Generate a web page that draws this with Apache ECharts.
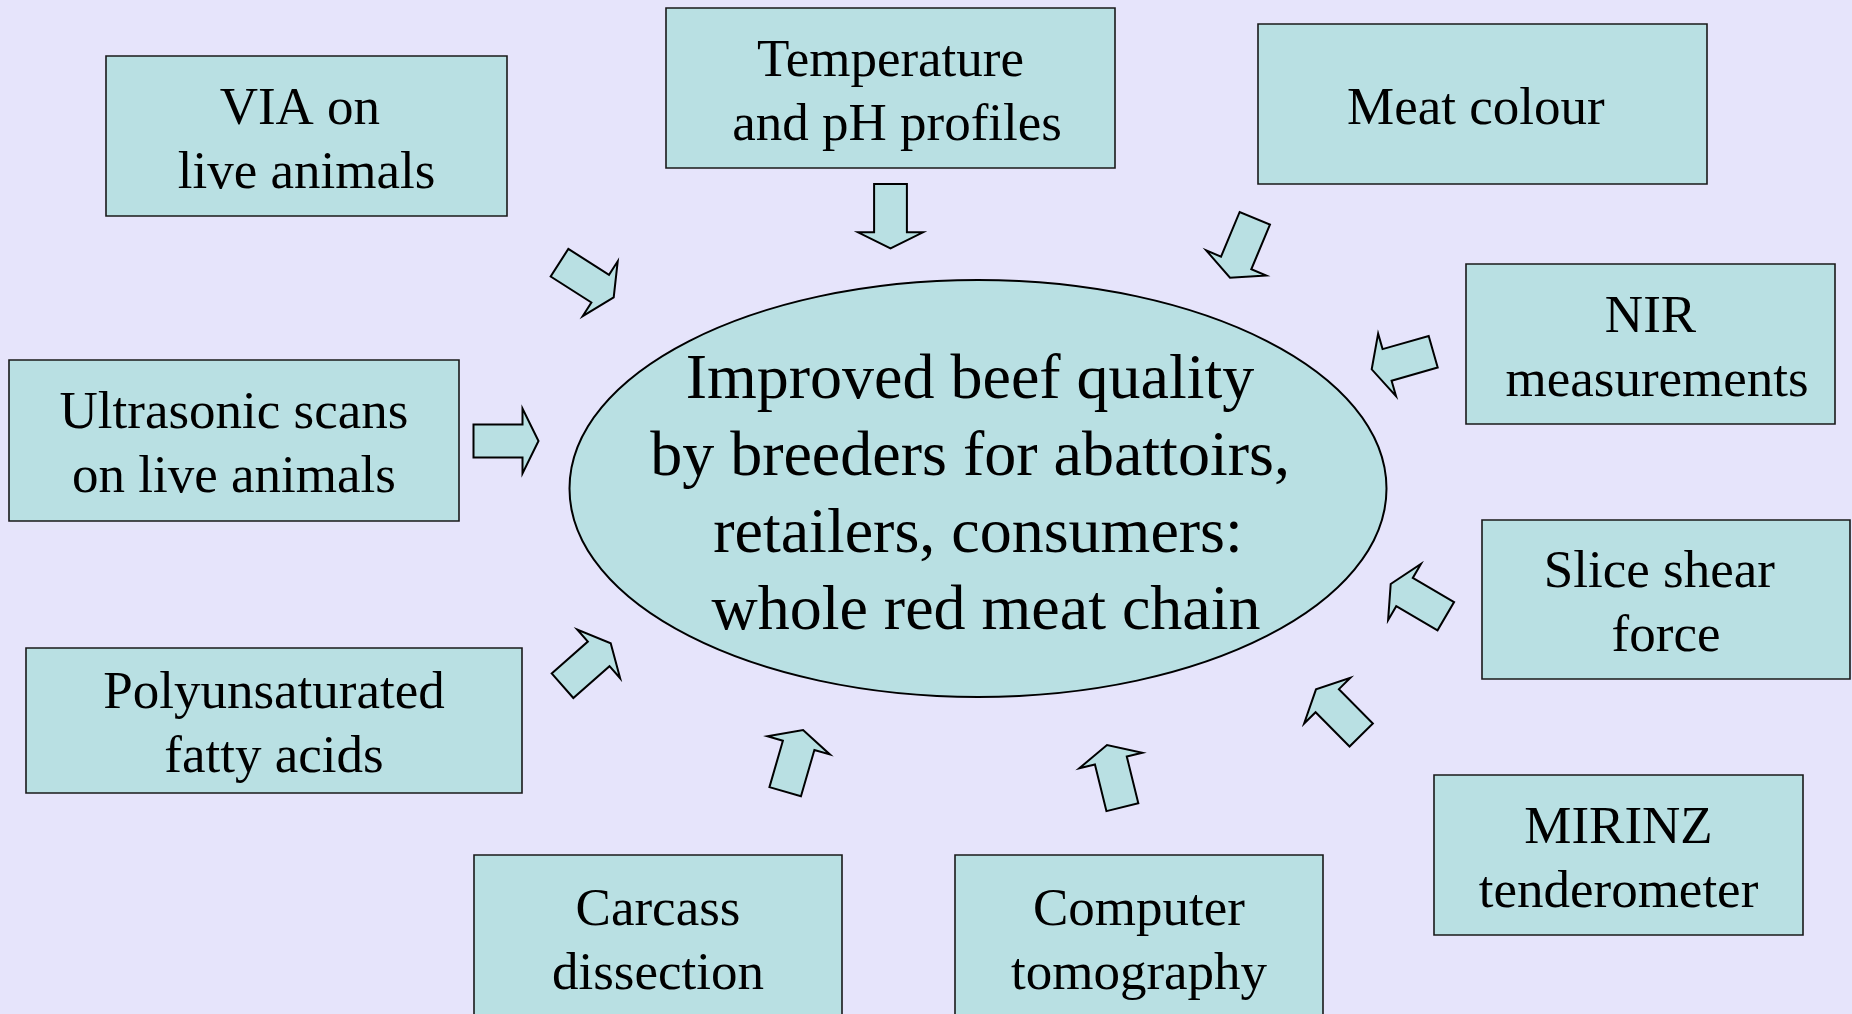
<!DOCTYPE html>
<html>
<head>
<meta charset="utf-8">
<title>Beef quality diagram</title>
<script src="https://cdn.jsdelivr.net/npm/echarts@6/dist/echarts.min.js"></script>
<style>
  html, body { margin: 0; padding: 0; background: #e6e4fb; }
  #chart { width: 1852px; height: 1014px; }
</style>
</head>
<body>
<div id="chart"></div>
<script>
// box labels, in reading order round the ellipse (stray spaces as in the original slide)
const boxLabels = [
  "VIA on \nlive animals",
  "Temperature\n and pH profiles",
  "Meat colour ",
  "NIR\n measurements",
  "Ultrasonic scans\non live animals",
  "Slice shear \nforce",
  "Polyunsaturated\nfatty acids",
  "MIRINZ\ntenderometer",
  "Carcass\ndissection",
  "Computer\ntomography",
];
const centerLabel = "Improved beef quality\nby breeders for abattoirs,\n retailers, consumers:\n  whole red meat chain";

// layout (page units, same as the hidden axes)
const boxX = [306.5, 890.5, 1482.5, 1650.5, 234, 1666, 274, 1618.5, 658, 1139];
const boxY = [136, 88, 104, 344, 440.5, 599.5, 720.5, 855, 937.5, 937.5];
const boxW = [401, 449, 449, 369, 450, 368, 496, 369, 368, 368];
const boxH = [160, 160, 160, 160, 161, 159, 145, 160, 165, 165];

// arrows: from tail to tip
const arrowFromX = [559.5, 890.5, 1254.8, 1433.2, 473.5, 1445.8, 562.5, 1361.2, 785.2, 1122.4];
const arrowFromY = [262.7, 184, 218.3, 351.7, 441, 616.2, 685.7, 735, 791.7, 807.2];
const arrowToX = [613.7, 890.5, 1230, 1371.7, 538.5, 1390.7, 610.7, 1316, 803.1, 1107];
const arrowToY = [297.3, 248.3, 277.7, 369.3, 441, 584, 643.3, 689.3, 730, 745];

const ellipseX = 978, ellipseY = 488.5, ellipseRx = 408.5, ellipseRy = 208.5;

const FILL = "#b9e0e3";
const SERIF = '"Liberation Serif", "DejaVu Serif", serif';

const chart = echarts.init(document.getElementById("chart"));

const option = {
  backgroundColor: "#e6e4fb",
  animation: false,
  textStyle: { fontFamily: SERIF },
  grid: { left: 0, right: 0, top: 0, bottom: 0 },
  xAxis: { type: "value", min: 0, max: 1852, show: false },
  yAxis: { type: "value", min: 0, max: 1014, inverse: true, show: false },
  series: [
    {
      // central ellipse
      type: "custom",
      silent: true,
      z: 1,
      data: [[ellipseX, ellipseY, ellipseRx, ellipseRy]],
      renderItem: function (params, api) {
        const c = api.coord([api.value(0), api.value(1)]);
        const r = api.size([api.value(2), api.value(3)]);
        return {
          type: "group",
          children: [
            {
              type: "ellipse",
              shape: { cx: c[0], cy: c[1], rx: Math.abs(r[0]), ry: Math.abs(r[1]) },
              style: { fill: FILL, stroke: "#000", lineWidth: 2 },
            },
            {
              type: "text",
              x: c[0] - 8,
              y: c[1] + 8,
              style: {
                text: centerLabel,
                fill: "#000",
                fontFamily: SERIF,
                fontSize: 64,
                lineHeight: 77,
                align: "center",
                verticalAlign: "middle",
              },
            },
          ],
        };
      },
    },
    {
      // boxes round the ellipse
      type: "custom",
      silent: true,
      z: 2,
      data: boxLabels.map((_, i) => [boxX[i], boxY[i], boxW[i], boxH[i]]),
      renderItem: function (params, api) {
        const i = params.dataIndex;
        const c = api.coord([api.value(0), api.value(1)]);
        const s = api.size([api.value(2), api.value(3)]);
        const w = Math.abs(s[0]), h = Math.abs(s[1]);
        return {
          type: "group",
          children: [
            {
              type: "rect",
              shape: { x: c[0] - w / 2, y: c[1] - h / 2, width: w, height: h },
              style: { fill: FILL, stroke: "#1a1a1a", lineWidth: 1.6 },
            },
            {
              type: "text",
              x: c[0],
              y: c[1] + 6,
              style: {
                text: boxLabels[i],
                fill: "#000",
                fontFamily: SERIF,
                fontSize: 53,
                lineHeight: 64,
                align: "center",
                verticalAlign: "middle",
              },
            },
          ],
        };
      },
    },
    {
      // block arrows pointing at the ellipse
      type: "custom",
      silent: true,
      z: 3,
      data: arrowFromX.map((_, i) => [arrowFromX[i], arrowFromY[i], arrowToX[i], arrowToY[i]]),
      renderItem: function (params, api) {
        const a = api.coord([api.value(0), api.value(1)]);
        const b = api.coord([api.value(2), api.value(3)]);
        const dx = b[0] - a[0], dy = b[1] - a[1];
        const len = Math.sqrt(dx * dx + dy * dy);
        const ux = dx / len, uy = dy / len;
        const vx = -uy, vy = ux;
        const head = 16, body = 16.4, wing = 32.5;
        const local = [
          [0, -body], [len - head, -body], [len - head, -wing], [len, 0],
          [len - head, wing], [len - head, body], [0, body],
        ];
        const pts = local.map((p) => [a[0] + ux * p[0] + vx * p[1], a[1] + uy * p[0] + vy * p[1]]);
        return {
          type: "polygon",
          shape: { points: pts },
          style: { fill: FILL, stroke: "#000", lineWidth: 2, lineJoin: "miter" },
        };
      },
    },
  ],
};

chart.setOption(option);
</script>
</body>
</html>
